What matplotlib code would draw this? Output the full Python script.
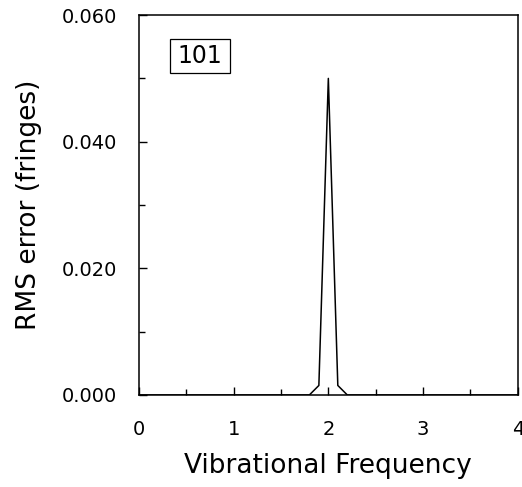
import numpy as np
import matplotlib
matplotlib.use("Agg")
import matplotlib.pyplot as plt
from matplotlib.patches import Rectangle
from matplotlib.ticker import MultipleLocator, FormatStrFormatter

# vibrational frequency sweep and RMS error (fringes)
freq = [0.0, 0.5, 1.0, 1.5, 1.8, 1.9, 2.0, 2.1, 2.2, 2.5, 3.0, 3.5, 4.0]
rms_error = [0.0, 0.0, 0.0, 0.0, 0.0, 0.0015, 0.050, 0.0015, 0.0, 0.0, 0.0, 0.0, 0.0]
panel_label = "101"

plt.rcParams["font.family"] = ["DejaVu Sans"]

fig = plt.figure(figsize=(5.22, 4.87), dpi=100)
ax = fig.add_axes([0.266, 0.189, 0.726, 0.780])

ax.plot(freq, rms_error, color="black", linewidth=1.1)

ax.set_xlim(0, 4)
ax.set_ylim(0, 0.06)
ax.xaxis.set_major_locator(MultipleLocator(1))
ax.xaxis.set_minor_locator(MultipleLocator(0.5))
ax.yaxis.set_major_locator(MultipleLocator(0.02))
ax.yaxis.set_minor_locator(MultipleLocator(0.01))
ax.yaxis.set_major_formatter(FormatStrFormatter("%.3f"))
ax.tick_params(which="major", direction="in", length=6, width=1,
               labelsize=14, top=False, right=False)
ax.tick_params(which="minor", direction="in", length=4, width=1,
               top=False, right=False)
ax.tick_params(axis="x", which="major", pad=18)
ax.tick_params(axis="y", which="major", pad=16)

for s in ax.spines.values():
    s.set_linewidth(1.1)

ax.set_xlabel("Vibrational Frequency", fontsize=19)
ax.set_ylabel("RMS error (fringes)", fontsize=19)
ax.xaxis.set_label_coords(0.5, -0.153)
ax.yaxis.set_label_coords(-0.256, 0.5)

# boxed panel label
ax.add_patch(Rectangle((0.082, 0.847), 0.158, 0.0895, transform=ax.transAxes,
                       facecolor="white", edgecolor="black", linewidth=0.9))
ax.text(0.161, 0.892, panel_label, fontsize=17, ha="center", va="center",
        transform=ax.transAxes)

fig.savefig("out.png", dpi=100)
